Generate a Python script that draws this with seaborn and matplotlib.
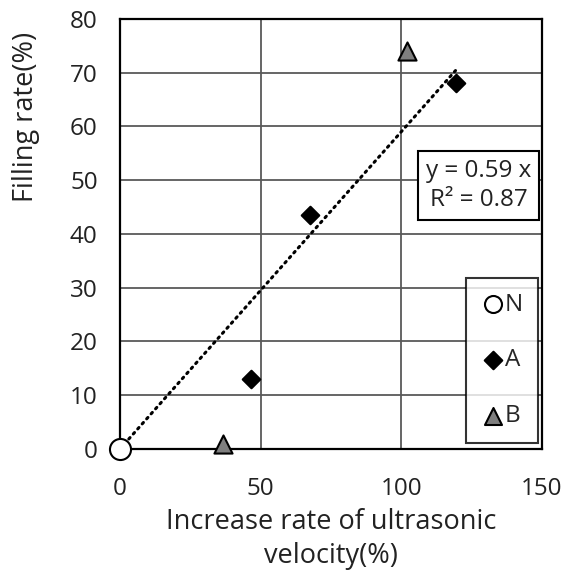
import numpy as np
import pandas as pd
import matplotlib
matplotlib.use('Agg')
import matplotlib.pyplot as plt
import seaborn as sns

# data
groups = ['N', 'A', 'A', 'A', 'B', 'B']
x_vals = [0.0, 46.7, 67.5, 119.3, 36.5, 101.9]
y_vals = [0.0, 13.0, 43.5, 68.0, 1.0, 74.0]
trend_slope = 0.59
trend_r2 = 0.87
x_ticks = [0, 50, 100, 150]
y_ticks = [0, 10, 20, 30, 40, 50, 60, 70, 80]

df = pd.DataFrame({'group': groups, 'x': x_vals, 'y': y_vals})

sns.set_style('white')
plt.rcParams['font.family'] = ['Open Sans', 'DejaVu Sans']

fig = plt.figure(figsize=(5.71, 5.72), dpi=100)
ax = fig.add_axes([0.210, 0.215, 0.739, 0.752])

# dotted trend line through origin
trend = pd.DataFrame({'x': [0, max(x_vals)]})
trend['y'] = trend_slope * trend['x']
sns.lineplot(data=trend, x='x', y='y', ax=ax, color='black', linewidth=2.2,
             linestyle=(0, (0.6, 1.6)), dash_capstyle='round', zorder=3, legend=False)

styles = {
    'N': dict(marker='o', color='white', s=230, leg_s=150),
    'A': dict(marker='D', color='black', s=80, leg_s=80),
    'B': dict(marker='^', color='#7f7f7f', s=170, leg_s=150),
}
for g in ['N', 'A', 'B']:
    st = styles[g]
    sns.scatterplot(data=df[df['group'] == g], x='x', y='y', ax=ax, marker=st['marker'],
                    color=st['color'], s=st['s'], edgecolor='black', linewidth=1.5,
                    label=g, zorder=4, clip_on=False)

ax.set_xlim(0, 150)
ax.set_ylim(0, 80)
ax.set_xticks(x_ticks)
ax.set_yticks(y_ticks)
ax.grid(True, color='#595959', linewidth=1.3)
ax.set_axisbelow(True)
for sp in ax.spines.values():
    sp.set_color('black')
    sp.set_linewidth(1.6)
ax.tick_params(axis='both', length=0, labelsize=17.5, colors='#222222')
ax.tick_params(axis='y', pad=16)
ax.tick_params(axis='x', pad=20)

ax.set_xlabel('Increase rate of ultrasonic\nvelocity(%)', fontsize=19.5, color='#222222',
              linespacing=1.3, labelpad=5)
ax.set_ylabel('Filling rate(%)', fontsize=19.5, color='#222222')
ax.yaxis.set_label_coords(-0.19, 0.772)

ax.text(127.5, 49.0, f'y = {trend_slope} x\nR² = {trend_r2}', ha='center', va='center',
        fontsize=17.5, color='#222222', linespacing=1.3,
        bbox=dict(boxstyle='square,pad=0.33', facecolor='white', edgecolor='black', linewidth=1.5))

leg = ax.legend(loc='lower right', bbox_to_anchor=(0.99, 0.015), fontsize=17.5, frameon=True,
                fancybox=False, edgecolor='black', labelspacing=1.3, handletextpad=0.0,
                handlelength=1.0, borderpad=0.6, borderaxespad=0.0)
for h, g in zip(leg.legend_handles, ['N', 'A', 'B']):
    h.set_sizes([styles[g]['leg_s']])
leg.get_frame().set_linewidth(1.5)
leg.set_zorder(6)

fig.savefig('out.png', dpi=100)
